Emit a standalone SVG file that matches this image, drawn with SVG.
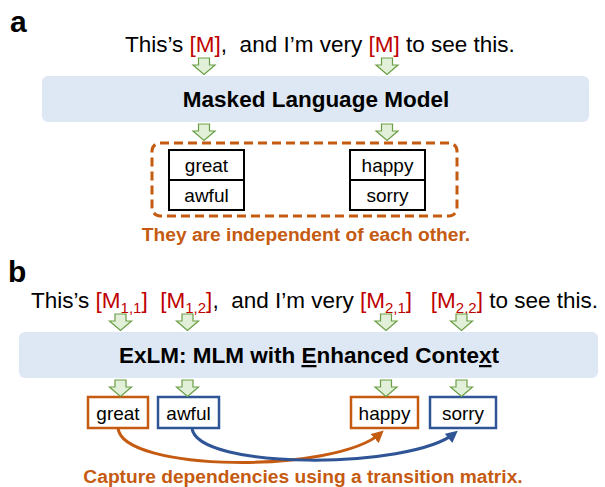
<svg xmlns="http://www.w3.org/2000/svg" xmlns:xlink="http://www.w3.org/1999/xlink" width="605" height="487" viewBox="0 0 605 487">
<style>
  text { font-family: "Liberation Sans", Arial, sans-serif; fill: #000; }
  .label { font-size: 30px; font-weight: bold; }
  .sent { font-size: 22.5px; }
  .red { fill: #C00000; }
  .sub { font-size: 15px; }
  .model { fill: #DEE8F4; stroke: none; }
  .title { font-size: 22.5px; font-weight: bold; text-anchor: middle; }
  .word { font-size: 19px; text-anchor: middle; }
  .cell { fill: #fff; stroke: #000; stroke-width: 2; }
  .note { font-size: 19.2px; font-weight: bold; fill: #C55A11; text-anchor: middle; }
  .gbox { fill: #fff; stroke: #C55A11; stroke-width: 2.5; }
  .bbox { fill: #fff; stroke: #2F5597; stroke-width: 2.5; }
  .down { fill: #E2F0D9; stroke: #6A9E45; stroke-width: 1.2; }
</style>
<defs>
  <path id="dn" d="M-5.5,0 H5.5 V7 H11 L0,16.5 L-11,7 H-5.5 Z"/>
  <marker id="ah-o" viewBox="0 0 10 10" markerUnits="userSpaceOnUse" markerWidth="12" markerHeight="12" refX="7" refY="5" orient="auto">
    <path d="M0,0 L10,5 L0,10 Z" fill="#C55A11"/>
  </marker>
  <marker id="ah-b" viewBox="0 0 10 10" markerUnits="userSpaceOnUse" markerWidth="12" markerHeight="12" refX="7" refY="5" orient="auto">
    <path d="M0,0 L10,5 L0,10 Z" fill="#2F5597"/>
  </marker>
</defs>

<!-- Panel a -->
<text class="label" x="10" y="32">a</text>
<g id="sentence-a">
  <text class="sent" x="125" y="52" xml:space="preserve">This’s <tspan class="red">[M]</tspan>,  and I’m very <tspan class="red">[M]</tspan> to see this.</text>
</g>
<g id="mlm">
  <rect class="model" x="42" y="76" width="547" height="46" rx="6"/>
  <text class="title" x="316" y="107">Masked Language Model</text>
</g>
<g id="candidates-a">
  <rect x="152" y="143" width="305" height="73" rx="8" fill="none" stroke="#C55A11" stroke-width="3" stroke-dasharray="9 5"/>
  <g id="cand-1">
    <rect class="cell" x="169" y="150" width="75" height="30"/>
    <rect class="cell" x="169" y="180" width="75" height="30"/>
    <text class="word" x="206.5" y="171.5">great</text>
    <text class="word" x="206.5" y="201.5">awful</text>
  </g>
  <g id="cand-2">
    <rect class="cell" x="350" y="150" width="75" height="30"/>
    <rect class="cell" x="350" y="180" width="75" height="30"/>
    <text class="word" x="387.5" y="171.5">happy</text>
    <text class="word" x="387.5" y="201.5">sorry</text>
  </g>
  <text class="note" x="306" y="241">They are independent of each other.</text>
</g>

<!-- Panel b -->
<text class="label" x="8" y="282">b</text>
<g id="sentence-b">
  <text class="sent" x="31" y="308" xml:space="preserve">This’s <tspan class="red">[M</tspan><tspan class="red sub" dy="5">1,1</tspan><tspan class="red" dy="-5">]</tspan>  <tspan class="red">[M</tspan><tspan class="red sub" dy="5">1,2</tspan><tspan class="red" dy="-5">]</tspan>,  and I’m very <tspan class="red">[M</tspan><tspan class="red sub" dy="5">2,1</tspan><tspan class="red" dy="-5">]</tspan>   <tspan class="red">[M</tspan><tspan class="red sub" dy="5">2,2</tspan><tspan class="red" dy="-5">]</tspan> to see this.</text>
</g>
<g id="exlm">
  <rect class="model" x="19" y="332" width="579" height="46" rx="6"/>
  <text class="title" x="309" y="363" xml:space="preserve">ExLM: MLM with <tspan text-decoration="underline">E</tspan>nhanced Conte<tspan text-decoration="underline">x</tspan>t</text>
</g>
<g id="great">
  <rect class="gbox" x="88" y="397" width="60" height="31"/>
  <text class="word" x="118" y="420">great</text>
</g>
<g id="awful">
  <rect class="bbox" x="158" y="397" width="61" height="31"/>
  <text class="word" x="188.5" y="420">awful</text>
</g>
<g id="happy">
  <rect class="gbox" x="351" y="397" width="67" height="31"/>
  <text class="word" x="384.5" y="420">happy</text>
</g>
<g id="sorry">
  <rect class="bbox" x="430" y="397" width="66" height="31"/>
  <text class="word" x="463" y="420">sorry</text>
</g>
<text class="note" x="303" y="483">Capture dependencies using a transition matrix.</text>

<g id="connectors">
  <use href="#dn" class="down" x="204" y="58"/>
  <use href="#dn" class="down" x="387" y="58"/>
  <use href="#dn" class="down" x="204" y="124"/>
  <use href="#dn" class="down" x="387" y="124"/>
  <use href="#dn" class="down" x="120.5" y="314"/>
  <use href="#dn" class="down" x="187.5" y="314"/>
  <use href="#dn" class="down" x="386" y="314"/>
  <use href="#dn" class="down" x="461.5" y="314"/>
  <use href="#dn" class="down" x="120.5" y="380"/>
  <use href="#dn" class="down" x="187.5" y="380"/>
  <use href="#dn" class="down" x="386" y="380"/>
  <use href="#dn" class="down" x="461.5" y="380"/>
  <path d="M118,428 C122,472 335,474 381,433" fill="none" stroke="#C55A11" stroke-width="3" marker-end="url(#ah-o)"/>
  <path d="M192,428 C196,470 410,470 455,433" fill="none" stroke="#2F5597" stroke-width="3" marker-end="url(#ah-b)"/>
</g>
</svg>
